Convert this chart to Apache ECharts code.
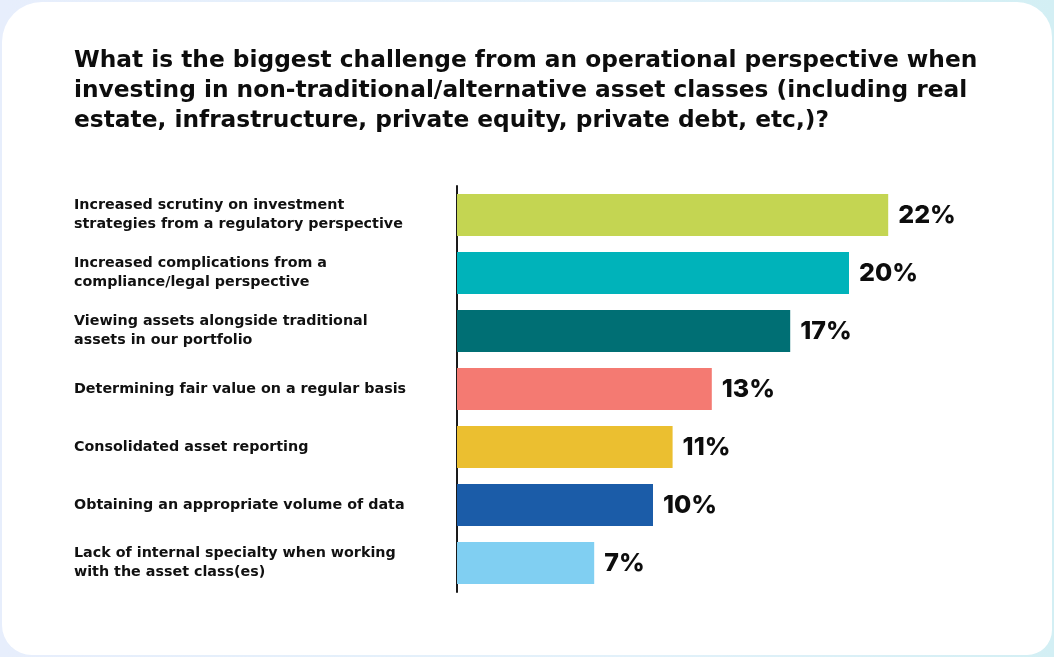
<!DOCTYPE html>
<html>
<head>
<meta charset="utf-8">
<script src="https://cdn.jsdelivr.net/npm/echarts@6/dist/echarts.min.js"></script>
<style>
  html, body { margin: 0; padding: 0; }
  body {
    width: 1054px; height: 657px; overflow: hidden;
    background: linear-gradient(90deg, #e7eefc 0%, #e2f1fa 60%, #d3eff4 100%);
  }
  #chart { width: 1054px; height: 657px; }
</style>
</head>
<body>
<div id="chart"></div>
<script>
// Survey question and answer options
const titleLines = [
  'What is the biggest challenge from an operational perspective when',
  'investing in non-traditional/alternative asset classes (including real',
  'estate, infrastructure, private equity, private debt, etc,)?'
];

const categories = [
  'Increased scrutiny on investment\nstrategies from a regulatory perspective',
  'Increased complications from a\ncompliance/legal perspective',
  'Viewing assets alongside traditional\nassets in our portfolio',
  'Determining fair value on a regular basis',
  'Consolidated asset reporting',
  'Obtaining an appropriate volume of data',
  'Lack of internal specialty when working\nwith the asset class(es)'
];

// Share of respondents (%)
const values = [22, 20, 17, 13, 11, 10, 7];

const barColors = ['#c4d552', '#00b3ba', '#006f74', '#f47a72', '#ebbf30', '#1b5ca8', '#80cff2'];

const TEXT_FONT = '"DejaVu Sans", Inter, sans-serif';
const NUM_FONT = 'Inter, "Open Sans", sans-serif';

const chart = echarts.init(document.getElementById('chart'), null, { renderer: 'canvas' });

chart.setOption({
  backgroundColor: 'transparent',
  animation: false,
  graphic: [{
    type: 'rect',
    z: -10,
    shape: { x: 2, y: 2, width: 1050, height: 653, r: [40, 35, 25, 30] },
    style: { fill: '#ffffff' }
  }],
  title: {
    text: titleLines.join('\n'),
    left: 74,
    top: 46,
    padding: 0,
    textStyle: {
      fontFamily: TEXT_FONT,
      fontSize: 23.3,
      fontWeight: 700,
      lineHeight: 30,
      color: '#0d0d0d'
    }
  },
  grid: {
    left: 457,
    right: 107,
    top: 186,
    bottom: 65,
    containLabel: false
  },
  xAxis: {
    type: 'value',
    min: 0,
    max: 25,
    show: false
  },
  yAxis: {
    type: 'category',
    inverse: true,
    data: categories,
    axisLine: { show: true, lineStyle: { color: '#1a1a1a', width: 2 } },
    axisTick: { show: false },
    splitLine: { show: false },
    axisLabel: {
      align: 'left',
      margin: 383,
      fontFamily: TEXT_FONT,
      fontSize: 14.3,
      fontWeight: 700,
      lineHeight: 19,
      color: '#111111'
    }
  },
  series: [{
    type: 'bar',
    barWidth: 42,
    data: values.map((v, i) => ({ value: v, itemStyle: { color: barColors[i] } })),
    label: {
      show: true,
      position: 'right',
      distance: 10,
      formatter: '{c}%',
      fontFamily: NUM_FONT,
      fontSize: 25,
      fontWeight: 800,
      color: '#0d0d0d'
    }
  }]
});
</script>
</body>
</html>
